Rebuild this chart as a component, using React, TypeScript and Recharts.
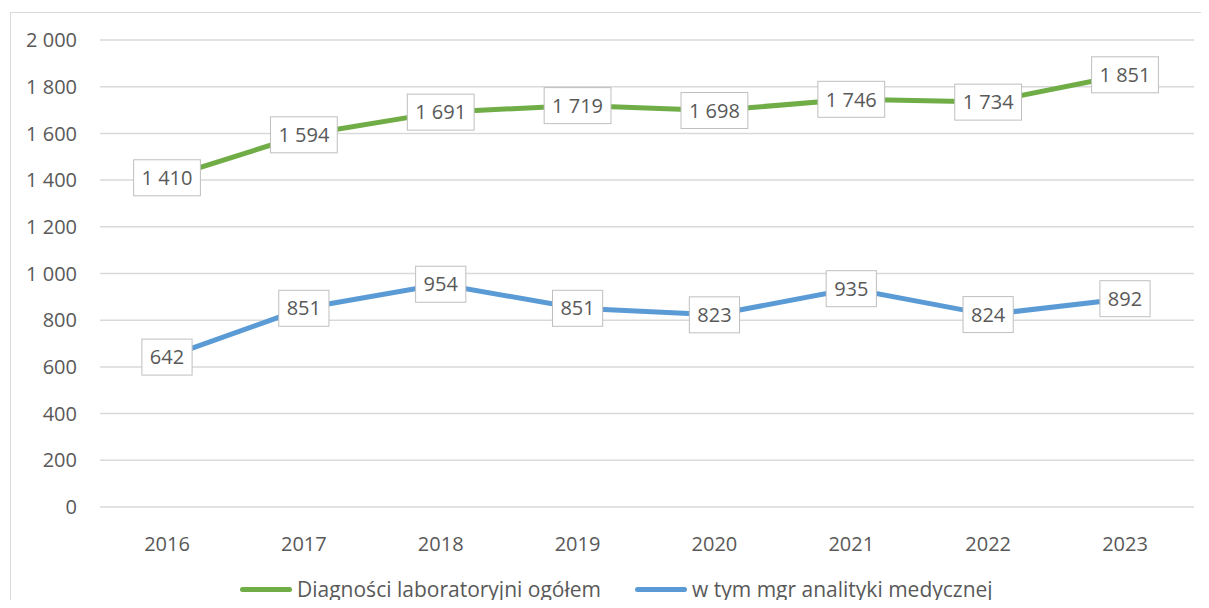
import React from 'react';
import { LineChart, Line, XAxis, YAxis, CartesianGrid, LabelList } from 'recharts';

const YEARS = ['2016', '2017', '2018', '2019', '2020', '2021', '2022', '2023'];
const TOTAL = [1410, 1594, 1691, 1719, 1698, 1746, 1734, 1851];
const MGR = [642, 851, 954, 851, 823, 935, 824, 892];
const Y_TICKS = [0, 200, 400, 600, 800, 1000, 1200, 1400, 1600, 1800, 2000];

const TOTAL_NAME = 'Diagności laboratoryjni ogółem';
const MGR_NAME = 'w tym mgr analityki medycznej';

const GREEN = '#70AD47';
const BLUE = '#5B9BD5';
const TEXT = '#595959';
const FONT = '"Open Sans", sans-serif';

const data = YEARS.map((year, i) => ({ year, total: TOTAL[i], mgr: MGR[i] }));

// 1 410 style, space as thousands separator
function fmt(v: number): string {
  return String(v).replace(/\B(?=(\d{3})+(?!\d))/g, ' ');
}

function BoxLabel(props: any) {
  const { x, y, value } = props;
  if (x == null || y == null) return null;
  const s = fmt(Number(value));
  const digits = s.replace(/ /g, '').length;
  const spaces = s.length - digits;
  const w = digits * 11.4 + spaces * 5.2 + 16;
  const h = 36;
  return (
    <g>
      <rect x={x - w / 2} y={y - h / 2} width={w} height={h} fill="#fff" stroke="#bfbfbf" strokeWidth={1} />
      <text x={x} y={y} dy="0.36em" textAnchor="middle" fontSize={20} fontFamily={FONT} fill={TEXT}>
        {s}
      </text>
    </g>
  );
}

function ChartLegend() {
  const items = [
    { name: TOTAL_NAME, color: GREEN },
    { name: MGR_NAME, color: BLUE },
  ];
  return (
    <div
      style={{
        position: 'absolute',
        left: 240,
        top: 575,
        display: 'flex',
        fontFamily: FONT,
        fontSize: 21,
        color: TEXT,
        lineHeight: '28px',
      }}
    >
      {items.map((it, i) => (
        <div key={it.name} style={{ display: 'flex', alignItems: 'center', marginRight: i === 0 ? 34 : 0 }}>
          <span style={{ display: 'inline-block', width: 52, height: 5, borderRadius: 3, background: it.color, marginRight: 5 }} />
          <span>{it.name}</span>
        </div>
      ))}
    </div>
  );
}

export default function App() {
  return (
    <div style={{ position: 'relative', margin: -8, width: 1209, height: 608, overflow: 'hidden', background: '#fff' }}>
      <div style={{ position: 'absolute', left: 10, top: 12, width: 1194, height: 640, border: '1.5px solid #d9d9d9', boxSizing: 'border-box' }} />
      <div style={{ position: 'absolute', left: 0, top: 0 }}>
        <LineChart width={1209} height={608} data={data} margin={{ top: 40, right: 15, bottom: 61, left: 10 }}>
          <CartesianGrid horizontal vertical={false} stroke="#d9d9d9" strokeWidth={1.5} />
          <XAxis
            dataKey="year"
            axisLine={false}
            tickLine={false}
            tickMargin={24}
            padding={{ left: 67, right: 69 }}
            tick={{ fontSize: 20, fontFamily: FONT, fill: TEXT }}
            height={40}
          />
          <YAxis
            domain={[0, 2000]}
            ticks={Y_TICKS}
            axisLine={false}
            tickLine={false}
            width={90}
            tickMargin={17}
            tickFormatter={fmt}
            tick={{ fontSize: 20, fontFamily: FONT, fill: TEXT }}
            interval={0}
          />
          <Line
            name={TOTAL_NAME}
            dataKey="total"
            stroke={GREEN}
            strokeWidth={5}
            dot={false}
            activeDot={false}
            isAnimationActive={false}
          >
            <LabelList dataKey="total" content={<BoxLabel />} />
          </Line>
          <Line
            name={MGR_NAME}
            dataKey="mgr"
            stroke={BLUE}
            strokeWidth={5}
            dot={false}
            activeDot={false}
            isAnimationActive={false}
          >
            <LabelList dataKey="mgr" content={<BoxLabel />} />
          </Line>
        </LineChart>
      </div>
      <ChartLegend />
    </div>
  );
}
